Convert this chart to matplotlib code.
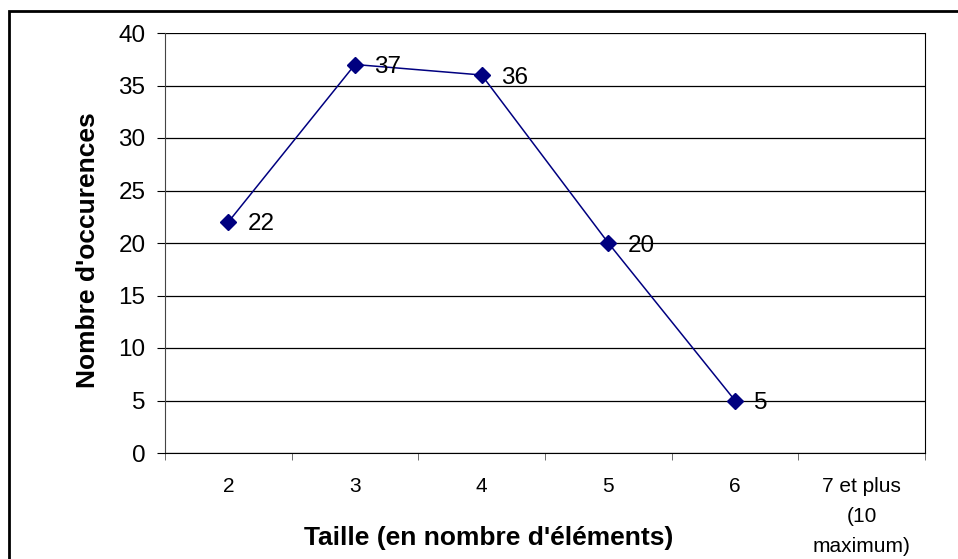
import matplotlib.pyplot as plt
from matplotlib.patches import Rectangle

plt.rcParams['font.family'] = ['Liberation Sans', 'DejaVu Sans']

categories = ["2", "3", "4", "5", "6", "7 et plus\n(10\nmaximum)"]
values = [22, 37, 36, 20, 5]
y_ticks = [0, 5, 10, 15, 20, 25, 30, 35, 40]

fig = plt.figure(figsize=(9.58, 5.59), dpi=100)
ax = fig.add_axes([165/958, 1 - 453/559, 760/958, 420/559])

xs = list(range(len(values)))
ax.plot(xs, values, color="#000080", lw=1.1, marker="D", ms=8.5,
        markerfacecolor="#000080", markeredgecolor="#000080", zorder=3)
for x, v in zip(xs, values):
    ax.annotate(str(v), (x, v), xytext=(14, 0), textcoords="offset points",
                va="center_baseline", ha="left", fontsize=17.5, color="black")

ax.set_xlim(-0.5, len(categories) - 0.5)
ax.set_ylim(0, 40)
ax.set_yticks(y_ticks)
ax.set_yticklabels([str(t) for t in y_ticks], fontsize=17.5)
ax.yaxis.grid(True, color="black", lw=0.9)
ax.set_axisbelow(True)

ax.set_xticks(range(len(categories)))
ax.set_xticklabels(categories, fontsize=15, linespacing=1.75, va="top")
ax.tick_params(axis="x", which="major", length=0, pad=17)
ax.set_xticks([i + 0.5 for i in range(-1, len(categories))], minor=True)
ax.tick_params(axis="x", which="minor", length=5, direction="out", color="#555555")
ax.tick_params(axis="y", length=6, direction="out", pad=8)

ax.spines["top"].set_visible(False)
ax.spines["right"].set_color("black")
ax.spines["left"].set_color("#444444")
ax.spines["bottom"].set_color("black")

fig.text(88/958, 1 - 250/559, "Nombre d'occurences", fontsize=19,
         fontweight="bold", rotation=90, ha="center", va="center")
fig.text(489/958, 1 - 538/559, "Taille (en nombre d'éléments)", fontsize=19,
         fontweight="bold", ha="center", va="center")

fig.patches.append(Rectangle((9/958, -0.1), 1.2, 1 - 11/559 + 0.1,
                             transform=fig.transFigure, fill=False,
                             edgecolor="black", lw=2))

fig.savefig("out.png", dpi=100)
